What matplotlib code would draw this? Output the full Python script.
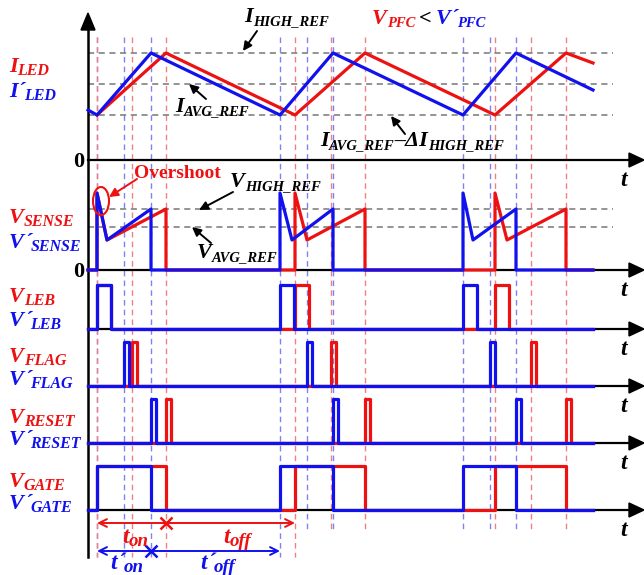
import matplotlib
matplotlib.use('Agg')
import matplotlib.pyplot as plt
from matplotlib.patches import Polygon, Ellipse

plt.rcParams['font.family'] = ['Liberation Serif', 'DejaVu Sans']

# ---------------- data (time and amplitude in arbitrary units) ----------------
t_start = 88
t_end = 593
blue_on = [97, 280, 463]
blue_off = [151, 333, 516]
red_on = [97, 295, 495]
red_off = [166, 365, 566]
blue_flag = [124, 307, 490]
red_flag = [132, 331, 531]
leb_width = 14
flag_width = 5
reset_width = 5

# inductor / LED current
i_levels = [107, 76, 45]          # I_HIGH_REF, I_AVG_REF, I_AVG_REF - dI
iled_blue_t = [88, 97, 151, 280, 333, 463, 516, 593]
iled_blue_v = [50, 45, 107, 45, 107, 45, 107, 70]
iled_red_t = [97, 166, 295, 365, 495, 566, 593]
iled_red_v = [45, 107, 45, 107, 45, 107, 97]

# sense voltage
v_levels = [61, 43]               # V_HIGH_REF, V_AVG_REF
v_peak = 77
v_valley = 30
v_end = 61
blue_valley_t = [107, 292, 473]
red_valley_t = [107, 307, 507]

digital_amp = 44

# ---------------- styling / layout ----------------
RED = '#ee1111'
BLUE = '#1111ee'
LRED = '#f08080'
LBLUE = '#8080f0'
LW = 2.3
base = {'iled': 160, 'sense': 270, 'leb': 329, 'flag': 386, 'reset': 443, 'gate': 510}

fig = plt.figure(figsize=(6.44, 5.75), dpi=100)
ax = fig.add_axes([0, 0, 1, 1])
ax.set_xlim(0, 644)
ax.set_ylim(575, 0)
ax.axis('off')
renderer = fig.canvas.get_renderer()


def rich(x, y, parts, color='black', size=16, sub_ratio=0.72):
    """Draw italic-bold text with subscripts; y is the baseline (pixels)."""
    cur = x
    for txt, kind in parts:
        if kind == 'm':
            fs, dy, gap = size, 0, 0
        elif kind == 's':
            fs, dy, gap = size * sub_ratio, 3, 0
        else:  # prime
            fs, dy, gap = size, 0, -1
        t = ax.text(cur, y + dy, txt, fontsize=fs, fontstyle='italic', fontweight='bold',
                    color=color, ha='left', va='baseline', zorder=6)
        bb = t.get_window_extent(renderer)
        cur += bb.width + gap
    return cur


# vertical dashed event lines
for times, col in ((blue_on + blue_off + blue_flag, LBLUE), (red_on + red_off + red_flag, LRED)):
    for t in times:
        ybot = 557 if t <= 300 else 530
        ax.plot([t, t], [37, ybot], color=col, lw=1.0, ls=(0, (4, 3)), zorder=1)

# grey reference lines
for lv in i_levels:
    ax.plot([88, 613], [base['iled'] - lv] * 2, color='#777777', lw=1.1, ls=(0, (4, 3)), zorder=1)
for lv in v_levels:
    ax.plot([88, 613], [base['sense'] - lv] * 2, color='#777777', lw=1.1, ls=(0, (4, 3)), zorder=1)

# axes
ax.plot([88, 88], [28, 557], color='black', lw=1.8, zorder=2)
ax.add_patch(Polygon([[88, 13], [81, 30], [95, 30]], closed=True, color='black', zorder=2))
for key, y0 in base.items():
    ax.plot([88, 632], [y0, y0], color='black', lw=1.6, zorder=2)
    ax.add_patch(Polygon([[629, y0 - 7], [644, y0], [629, y0 + 7]], closed=True, color='black', zorder=2))
    rich(620, y0 + 26, [('t', 'm')], size=17)

# ILED
ax.plot(iled_red_t, [base['iled'] - v for v in iled_red_v], color=RED, lw=LW, zorder=3)
ax.plot(iled_blue_t, [base['iled'] - v for v in iled_blue_v], color=BLUE, lw=LW, zorder=4)


def sense_wave(ons, offs, valleys):
    t = [t_start]
    v = [0]
    for a, b, c in zip(ons, offs, valleys):
        t += [a, a, c, b, b]
        v += [0, v_peak, v_valley, v_end, 0]
    t.append(t_end)
    v.append(0)
    return t, v


tr, vr = sense_wave(red_on, red_off, red_valley_t)
tb, vb = sense_wave(blue_on, blue_off, blue_valley_t)
ax.plot(tr, [base['sense'] - v for v in vr], color=RED, lw=LW, zorder=3)
ax.plot(tb, [base['sense'] - v for v in vb], color=BLUE, lw=LW, zorder=4)


def pulses(starts, ends):
    t = [t_start]
    v = [0]
    for s, e in zip(starts, ends):
        t += [s, s, e, e]
        v += [0, 1, 1, 0]
    t.append(t_end)
    v.append(0)
    return t, v


digital = {
    'leb': ((red_on, [s + leb_width for s in red_on]), (blue_on, [s + leb_width for s in blue_on])),
    'flag': ((red_flag, [s + flag_width for s in red_flag]), (blue_flag, [s + flag_width for s in blue_flag])),
    'reset': ((red_off, [s + reset_width for s in red_off]), (blue_off, [s + reset_width for s in blue_off])),
    'gate': ((red_on, red_off), (blue_on, blue_off)),
}
for key, (rp, bp) in digital.items():
    y0 = base[key]
    t, v = pulses(*rp)
    ax.plot(t, [y0 - digital_amp * x for x in v], color=RED, lw=LW, zorder=3)
    t, v = pulses(*bp)
    ax.plot(t, [y0 - digital_amp * x for x in v], color=BLUE, lw=LW, zorder=4)

# left labels
labels = [
    ('I', 'LED', 72, 97),
    ('V', 'SENSE', 223, 248),
    ('V', 'LEB', 302, 326),
    ('V', 'FLAG', 362, 385),
    ('V', 'RESET', 423, 445),
    ('V', 'GATE', 487, 509),
]
for mainch, sub, yr, yb in labels:
    rich(9, yr, [(mainch, 'm'), (sub, 's')], color=RED, size=16)
    rich(9, yb, [(mainch, 'm'), ('\u00b4', 'p'), (sub, 's')], color=BLUE, size=16)

ax.text(84, base['iled'] + 7, '0', fontsize=16, fontweight='bold', ha='right', va='baseline')
ax.text(84, base['sense'] + 7, '0', fontsize=16, fontweight='bold', ha='right', va='baseline')

# annotations
SR = 0.66
arrow_k = dict(arrowstyle='-|>', color='black', lw=1.4, mutation_scale=13, shrinkA=0, shrinkB=0)
rich(244, 22, [('I', 'm'), ('HIGH_REF', 's')], size=16, sub_ratio=SR)
ax.annotate('', xy=(243, 51), xytext=(257, 31), arrowprops=arrow_k)

xe = rich(372, 24, [('V', 'm'), ('PFC', 's')], color=RED, size=16, sub_ratio=SR)
xe = rich(xe + 4, 24, [('<', 'm')], color='black', size=16)
rich(xe + 4, 24, [('V', 'm'), ('\u00b4', 'p'), ('PFC', 's')], color=BLUE, size=16, sub_ratio=SR)

rich(175, 112, [('I', 'm'), ('AVG_REF', 's')], size=16, sub_ratio=SR)
ax.annotate('', xy=(189, 84), xytext=(206, 99), arrowprops=arrow_k)

rich(320, 146, [('I', 'm'), ('AVG_REF', 's'), ('\u2013\u0394I', 'm'), ('HIGH_REF', 's')],
     size=16, sub_ratio=SR)
ax.annotate('', xy=(391, 116), xytext=(405, 134), arrowprops=arrow_k)

ax.text(134, 178, 'Overshoot', fontsize=14, fontweight='bold', color=RED, ha='left', va='baseline')
ax.annotate('', xy=(109, 197), xytext=(137, 179),
            arrowprops=dict(arrowstyle='-|>', color=RED, lw=1.4, mutation_scale=13, shrinkA=0, shrinkB=0))
ax.add_patch(Ellipse((101, 201), 16, 28, fill=False, ec=RED, lw=1.5, zorder=5))

rich(230, 187, [('V', 'm'), ('HIGH_REF', 's')], size=16, sub_ratio=SR)
ax.annotate('', xy=(199, 210), xytext=(233, 192), arrowprops=arrow_k)

rich(197, 258, [('V', 'm'), ('AVG_REF', 's')], size=16, sub_ratio=SR)
ax.annotate('', xy=(192, 227), xytext=(211, 243), arrowprops=arrow_k)

# timing annotations
ya, yb2 = 523, 551
ax.annotate('', xy=(red_on[0], ya), xytext=(red_on[1], ya),
            arrowprops=dict(arrowstyle='<->', color=RED, lw=1.4, mutation_scale=14, shrinkA=0, shrinkB=0))
ax.plot(red_off[0], ya, marker='x', ms=9, mew=1.8, color=RED)
rich(122, 543, [('t', 'm'), ('on', 's')], color=RED, size=17, sub_ratio=0.8)
rich(223, 543, [('t', 'm'), ('off', 's')], color=RED, size=17, sub_ratio=0.8)

ax.annotate('', xy=(blue_on[0], yb2), xytext=(blue_on[1], yb2),
            arrowprops=dict(arrowstyle='<->', color=BLUE, lw=1.4, mutation_scale=14, shrinkA=0, shrinkB=0))
ax.plot(blue_off[0], yb2, marker='x', ms=9, mew=1.8, color=BLUE)
rich(110, 569, [('t', 'm'), ('\u00b4', 'p'), ('on', 's')], color=BLUE, size=17, sub_ratio=0.8)
rich(200, 569, [('t', 'm'), ('\u00b4', 'p'), ('off', 's')], color=BLUE, size=17, sub_ratio=0.8)

fig.savefig('out.png', dpi=100)
